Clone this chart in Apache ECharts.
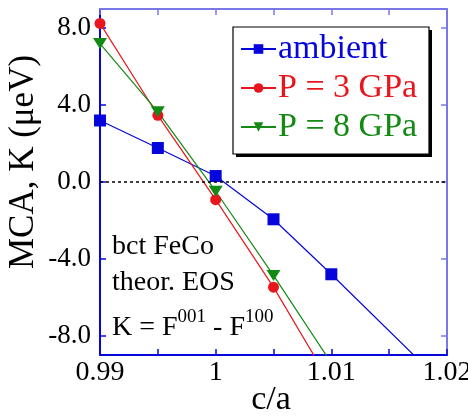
<!DOCTYPE html>
<html>
<head>
<meta charset="utf-8">
<script src="https://cdn.jsdelivr.net/npm/echarts@6/dist/echarts.min.js"></script>
<style>
  html, body { margin: 0; padding: 0; background: #fff; }
  #chart { width: 468px; height: 416px; }
</style>
</head>
<body>
<div id="chart"></div>
<script>
// c/a 取值与各压力下的 MCA 数据 (μeV)
const caAmbient = [0.99, 0.995, 1.0, 1.005, 1.01, 1.02]
const kAmbient = [3.2, 1.77, 0.31, -1.94, -4.8, -10.7]
const caP3 = [0.99, 0.995, 1.0, 1.005, 1.01]
const kP3 = [8.25, 3.47, -0.92, -5.47, -10.55]
const caP8 = [0.99, 0.995, 1.0, 1.005, 1.01]
const kP8 = [7.2, 3.65, -0.48, -4.86, -9.42]
const yTicks = [-8, -4, 0, 4, 8]

const FONT = 'Liberation Serif'
const BLUE = '#0606dc'
const RED = '#e8161c'
const GREEN = '#138a13'
const FRAME = '#7878e8'

const pairs = (xs, ys) => xs.map((x, i) => [x, ys[i]])

const chart = echarts.init(document.getElementById('chart'))

const options = {
  animation: false,
  grid: { left: 100, right: 21, top: 9, bottom: 61, outerBoundsMode: 'none' },
  legend: {
    left: 233,
    top: 27,
    orient: 'vertical',
    padding: [5, 5, 5, 7],
    itemGap: 5,
    itemWidth: 35,
    itemHeight: 12,
    z: 5,
    textStyle: { fontFamily: FONT, fontSize: 34, lineHeight: 34, padding: [0, 0, 0, -3] },
    data: [
      { name: 'ambient', textStyle: { color: BLUE } },
      { name: 'P = 3 GPa', textStyle: { color: RED } },
      { name: 'P = 8 GPa', textStyle: { color: GREEN } }
    ]
  },
  xAxis: [
    {
      type: 'value',
      min: 0.99,
      max: 1.02,
      interval: 0.005,
      axisLine: { onZero: false, lineStyle: { color: BLUE, width: 2 } },
      axisTick: { inside: true, length: 6, lineStyle: { color: BLUE, width: 1.5 } },
      axisLabel: {
        fontFamily: FONT,
        fontSize: 28,
        color: '#000',
        margin: 4,
        formatter: (v) => {
          const r = Math.round(v * 1000)
          return r % 10 === 0 ? String(Math.round(v * 100) / 100) : ''
        }
      },
      splitLine: { show: false }
    },
    {
      type: 'value',
      position: 'top',
      min: 0.99,
      max: 1.02,
      interval: 0.005,
      axisLine: { onZero: false, lineStyle: { color: FRAME, width: 2 } },
      axisTick: { inside: true, length: 6, lineStyle: { color: FRAME, width: 1.5 } },
      axisLabel: { show: false },
      splitLine: { show: false }
    }
  ],
  yAxis: [
    {
      type: 'value',
      min: -9,
      max: 9,
      axisLine: { onZero: false, lineStyle: { color: BLUE, width: 2 } },
      axisTick: { inside: true, length: 6, customValues: yTicks, lineStyle: { color: BLUE, width: 1.5 } },
      axisLabel: {
        fontFamily: FONT,
        fontSize: 27,
        color: '#000',
        margin: 9,
        customValues: yTicks,
        formatter: (v) => v.toFixed(1)
      },
      splitLine: { show: false }
    },
    {
      type: 'value',
      position: 'right',
      min: -9,
      max: 9,
      axisLine: { onZero: false, lineStyle: { color: FRAME, width: 2 } },
      axisTick: { inside: true, length: 6, customValues: yTicks, lineStyle: { color: FRAME, width: 1.5 } },
      axisLabel: { show: false },
      splitLine: { show: false }
    }
  ],
  graphic: [
    // 图例阴影和边框
    { type: 'rect', z: 3, shape: { x: 236, y: 30, width: 196, height: 127 }, style: { fill: '#000' } },
    { type: 'rect', z: 3, shape: { x: 233, y: 27, width: 196, height: 127 }, style: { fill: '#fff', stroke: '#000', lineWidth: 1.2 } },
    // 坐标轴标题
    {
      type: 'text',
      x: 24,
      y: 162,
      rotation: Math.PI / 2,
      style: { text: 'MCA, K (μeV)', font: '35px "Liberation Serif"', fill: '#000', align: 'center', verticalAlign: 'middle' }
    },
    {
      type: 'text',
      x: 271,
      y: 400,
      style: { text: 'c/a', font: '34px "Liberation Serif"', fill: '#000', align: 'center', verticalAlign: 'middle' }
    },
    // 注释文字
    {
      type: 'text',
      left: 112,
      top: 233,
      style: { text: 'bct FeCo', font: '28px "Liberation Serif"', fill: '#000' }
    },
    {
      type: 'text',
      left: 112,
      top: 269,
      style: { text: 'theor. EOS', font: '28px "Liberation Serif"', fill: '#000' }
    },
    {
      type: 'text',
      left: 112,
      top: 308,
      style: {
        text: '{n|K = F}{s|001}{n| - F}{s|100}',
        rich: {
          n: { fontFamily: FONT, fontSize: 28, fill: '#000', verticalAlign: 'bottom', lineHeight: 34 },
          s: { fontFamily: FONT, fontSize: 19, fill: '#000', verticalAlign: 'top', lineHeight: 34, padding: [0, 0, 14, 0] }
        }
      }
    }
  ],
  series: [
    {
      name: 'ambient',
      type: 'line',
      color: BLUE,
      symbol: 'rect',
      symbolSize: 12,
      lineStyle: { width: 1.2 },
      clip: true,
      data: pairs(caAmbient, kAmbient),
      markLine: {
        silent: true,
        symbol: 'none',
        label: { show: false },
        lineStyle: { color: '#000', type: [3, 3], width: 1.5 },
        data: [{ yAxis: 0 }]
      }
    },
    {
      name: 'P = 3 GPa',
      type: 'line',
      color: RED,
      symbol: 'circle',
      symbolSize: 11,
      lineStyle: { width: 1.2 },
      clip: true,
      data: pairs(caP3, kP3)
    },
    {
      name: 'P = 8 GPa',
      type: 'line',
      color: GREEN,
      symbol: 'triangle',
      symbolRotate: 180,
      symbolSize: [14, 11],
      lineStyle: { width: 1.2 },
      clip: true,
      data: pairs(caP8, kP8)
    }
  ]
}

chart.setOption(options)
</script>
</body>
</html>
